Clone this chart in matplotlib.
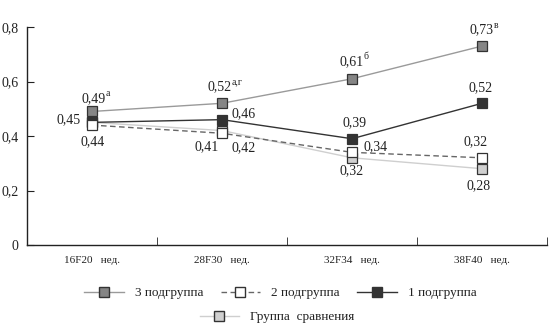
import matplotlib
matplotlib.use("Agg")
import matplotlib.pyplot as plt
from matplotlib.lines import Line2D

plt.rcParams['font.family'] = ['Liberation Serif', 'DejaVu Serif']

categories = ["16F20   нед.", "28F30   нед.", "32F34   нед.", "38F40   нед."]
group3 = [0.49, 0.52, 0.61, 0.73]
group2 = [0.44, 0.41, 0.34, 0.32]
group1 = [0.45, 0.46, 0.39, 0.52]
comparison = [0.45, 0.42, 0.32, 0.28]
yticks = [0, 0.2, 0.4, 0.6, 0.8]
ytick_labels = ["0", "0,2", "0,4", "0,6", "0,8"]
sup3 = ["а", "а,г", "б", "в"]

TXT = "#222222"
fig = plt.figure(figsize=(5.51, 3.25), dpi=100)
ax = fig.add_axes([27/551, 1-245/325, 520/551, 218/325])
x = list(range(len(categories)))

ms = 6.5
ax.plot(x, comparison, color="#cfcfcf", lw=1.0, marker="s", ms=ms, mfc="#d0d0d0", mec="#333333", mew=0.9, zorder=2)
ax.plot(x, group1, color="#333333", lw=1.0, marker="s", ms=ms, mfc="#333333", mec="#333333", mew=0.9, zorder=3)
ax.plot(x, group2, color="#666666", lw=1.0, ls=(0, (4, 2.5)), marker="s", ms=ms, mfc="white", mec="#333333", mew=0.9, zorder=4)
ax.plot(x, group3, color="#9a9a9a", lw=1.0, marker="s", ms=ms, mfc="#858585", mec="#333333", mew=0.9, zorder=5)

def fmt(v):
    return f"{v:.2f}".replace(".", ",")

def lab(i, v, dx, dy, sup=None):
    ax.annotate(fmt(v), (i, v), xytext=(dx, dy), textcoords="offset pixels",
                ha="center", va="center", fontsize=10, color=TXT, zorder=6)
    if sup:
        ax.annotate(sup, (i, v), xytext=(dx + 12, dy + 5), textcoords="offset pixels",
                    ha="left", va="center", fontsize=7, color=TXT, zorder=6)

off3 = [(2, 13), (-2, 17), (0, 17), (0, 16)]
for i, v in enumerate(group3):
    lab(i, v, *off3[i], sup=sup3[i])
off1 = [(-23, 3), (22, 6), (3, 16), (-1, 16)]
for i, v in enumerate(group1):
    lab(i, v, *off1[i])
off2 = [(1, -17), (-15, -13), (24, 6), (-6, 16)]
for i, v in enumerate(group2):
    lab(i, v, *off2[i])
offc = {1: (22, -17), 2: (0, -13), 3: (-3, -17)}
for i, (dx, dy) in offc.items():
    lab(i, comparison[i], dx, dy)

ax.set_xlim(-0.5, 3.5)
ax.set_ylim(0, 0.8)
ax.set_yticks(yticks)
ax.set_yticklabels(ytick_labels, fontsize=10, color=TXT)
ax.set_xticks(x)
ax.set_xticklabels(categories, fontsize=8, color=TXT)
ax.tick_params(axis="x", which="major", length=0, pad=8)
ax.set_xticks([0.5, 1.5, 2.5, 3.5], minor=True)
ax.tick_params(axis="x", which="minor", direction="in", length=6, color="#222222")
ax.tick_params(axis="y", direction="in", length=5, pad=6, color="#222222")
for s in ["top", "right"]:
    ax.spines[s].set_visible(False)
for s in ["left", "bottom"]:
    ax.spines[s].set_color("#222222")
    ax.spines[s].set_linewidth(1.0)

h3 = Line2D([], [], color="#9a9a9a", lw=1.0, marker="s", ms=ms, mfc="#858585", mec="#333333")
h2 = Line2D([], [], color="#666666", lw=1.0, ls=(0, (4, 2.5)), marker="s", ms=ms, mfc="white", mec="#333333")
h1 = Line2D([], [], color="#333333", lw=1.0, marker="s", ms=ms, mfc="#333333", mec="#333333")
hc = Line2D([], [], color="#cfcfcf", lw=1.0, marker="s", ms=ms, mfc="#d0d0d0", mec="#333333")

leg1 = fig.legend([h3, h2, h1], ["3 подгруппа", "2 подгруппа", "1 подгруппа"], loc="center",
                  bbox_to_anchor=(0.509, 1-293/325), ncol=3, frameon=False, fontsize=9.5,
                  handlelength=3.0, handletextpad=0.85, columnspacing=1.3, labelcolor=TXT)
leg2 = fig.legend([hc], ["Группа  сравнения"], loc="center", bbox_to_anchor=(0.503, 1-317/325),
                  frameon=False, fontsize=9.5, handlelength=3.0, handletextpad=0.85, labelcolor=TXT)

fig.savefig("out.png", dpi=100)
